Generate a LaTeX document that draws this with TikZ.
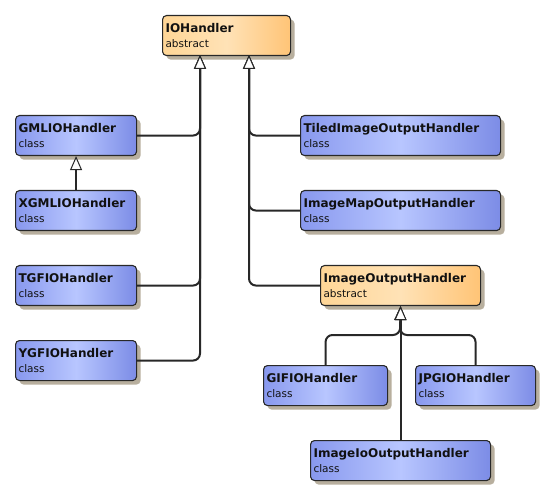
\documentclass[tikz,border=0pt]{standalone}
\usepackage{fontspec}
\setmainfont{DejaVu Sans}
\usetikzlibrary{arrows.meta,shadows}
\definecolor{bL}{RGB}{136,152,238}
\definecolor{bM}{RGB}{184,198,255}
\definecolor{bR}{RGB}{124,140,230}
\definecolor{oL}{RGB}{255,214,150}
\definecolor{oM}{RGB}{255,226,182}
\definecolor{oR}{RGB}{255,196,118}
\definecolor{shd}{RGB}{172,162,142}
\definecolor{edge}{RGB}{40,40,40}
\definecolor{txt}{RGB}{17,17,17}
\tikzset{
  umlbox/.style={draw=edge, line width=1.1pt, rounded corners=4pt, anchor=north west,
    inner xsep=3pt, inner ysep=2pt, minimum height=40pt, align=left, text=txt,
    font=\fontsize{10.5}{15}\selectfont,
    drop shadow={shadow xshift=4pt, shadow yshift=-4pt, fill=shd, opacity=0.85}},
  clsbox/.style={umlbox, left color=bL, right color=bR, middle color=bM},
  absbox/.style={umlbox, left color=oL, right color=oR, middle color=oM},
  conn/.style={draw=edge, line width=2pt, rounded corners=7pt},
  inh/.style={conn, -{Triangle[open, length=14pt, width=12pt, line width=1pt, fill=white]}},
}
\newcommand{\nm}[1]{{\fontsize{12}{15}\selectfont\bfseries #1}}
\begin{document}
\begin{tikzpicture}[x=1pt,y=-1pt]
\useasboundingbox[fill=white] (0,0) rectangle (555,500);
% nodes
\node[absbox, text width=122pt] (io) at (162,15) {\nm{IOHandler}\\abstract};
\node[clsbox, text width=115pt] (gml) at (15,115) {\nm{GMLIOHandler}\\class};
\node[clsbox, text width=115pt] (xgml) at (15,190) {\nm{XGMLIOHandler}\\class};
\node[clsbox, text width=115pt] (tgf) at (15,265) {\nm{TGFIOHandler}\\class};
\node[clsbox, text width=115pt] (ygf) at (15,340) {\nm{YGFIOHandler}\\class};
\node[clsbox, text width=194pt] (tiled) at (300,115) {\nm{TiledImageOutputHandler}\\class};
\node[clsbox, text width=194pt] (imap) at (300,190) {\nm{ImageMapOutputHandler}\\class};
\node[absbox, text width=154pt] (ioh) at (320,265) {\nm{ImageOutputHandler}\\abstract};
\node[clsbox, text width=118pt] (gif) at (263,365) {\nm{GIFIOHandler}\\class};
\node[clsbox, text width=114pt] (jpg) at (415,365) {\nm{JPGIOHandler}\\class};
\node[clsbox, text width=174pt] (imgio) at (310,440) {\nm{ImageIoOutputHandler}\\class};
% bus points
\coordinate (busL) at (200,55);
\coordinate (busR) at (249,55);
\coordinate (busB) at (400,335);
% connectors
\draw[inh] (xgml.north) -- (gml.south);
\draw[inh] (gml.east) -| (busL);
\draw[inh] (tgf.east) -| (busL);
\draw[inh] (ygf.east) -| (busL);
\draw[inh] (tiled.west) -| (busR);
\draw[inh] (imap.west) -| (busR);
\draw[inh] (ioh.west) -| (busR);
\draw[inh] (gif.north) |- (busB) -- (ioh.south);
\draw[inh] (jpg.north) |- (busB) -- (ioh.south);
\draw[inh] (imgio.north) -- (ioh.south);
\end{tikzpicture}
\end{document}
